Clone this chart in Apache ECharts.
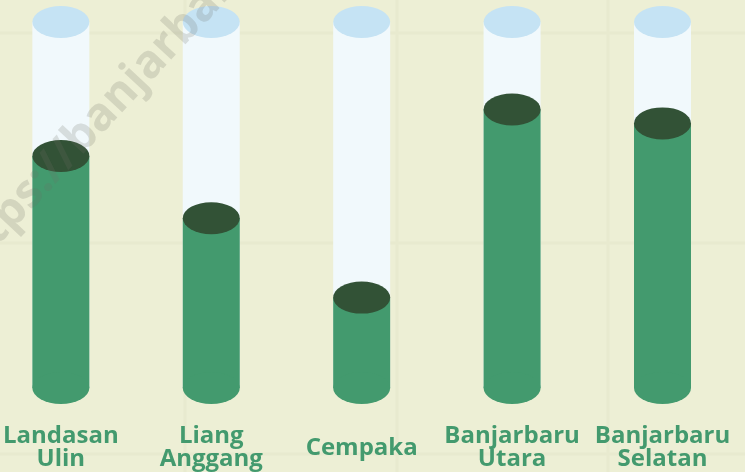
<!DOCTYPE html>
<html>
<head>
<meta charset="utf-8">
<script src="https://cdn.jsdelivr.net/npm/echarts@6/dist/echarts.min.js"></script>
<style>
  html, body { margin: 0; padding: 0; background: #edefd5; }
  #chart { width: 745px; height: 472px; }
</style>
</head>
<body>
<div id="chart"></div>
<script>
const kecamatan = ['Landasan\nUlin', 'Liang\nAnggang', 'Cempaka', 'Banjarbaru\nUtara', 'Banjarbaru\nSelatan']
const nilai = [63.4, 46.4, 24.7, 76.1, 72.3]
const maksimum = [100, 100, 100, 100, 100]

const W = 57, H = 32

const chart = echarts.init(document.getElementById('chart'))

// faint background grid pattern
const gridLines = []
;[33, 243, 454].forEach(y => {
    gridLines.push({ type: 'line', z: 0, silent: true,
        shape: { x1: 0, y1: y, x2: 745, y2: y },
        style: { stroke: '#e8eacf', lineWidth: 3 } })
})
;[185, 397, 608].forEach(x => {
    gridLines.push({ type: 'line', z: 0, silent: true,
        shape: { x1: x, y1: 0, x2: x, y2: 472 },
        style: { stroke: '#e8eacf', lineWidth: 3 } })
})

const option = {
    backgroundColor: '#edefd5',
    animation: false,
    grid: { left: 59.5, right: 82.5, top: 22, bottom: 84, containLabel: false },
    xAxis: {
        type: 'category',
        data: kecamatan,
        boundaryGap: false,
        axisLine: { show: false },
        axisTick: { show: false },
        splitLine: { show: false },
        axisLabel: {
            interval: 0,
            margin: 60,
            verticalAlign: 'middle',
            color: '#439a6e',
            fontFamily: 'Open Sans',
            fontWeight: 'bold',
            fontSize: 24,
            lineHeight: 23
        }
    },
    yAxis: {
        type: 'value',
        min: 0,
        max: 100,
        show: false,
        splitLine: { show: false }
    },
    graphic: gridLines.concat([{
        type: 'text',
        z: 100,
        silent: true,
        x: -30,
        y: 290,
        rotation: 47 * Math.PI / 180,
        style: {
            text: 'https://banjarbarukota.go.id',
            font: 'bold 46px "Open Sans"',
            fill: 'rgba(110,110,100,0.2)',
            textAlign: 'left',
            textVerticalAlign: 'bottom'
        }
    }]),
    series: [
        {
            // empty tube
            type: 'bar',
            data: maksimum,
            barWidth: W,
            barGap: '-100%',
            itemStyle: { color: '#f1f9fc' },
            z: 2
        },
        {
            type: 'bar',
            data: nilai,
            barWidth: W,
            barGap: '-100%',
            itemStyle: { color: '#439a6e' },
            z: 4
        },
        {
            // tube top
            type: 'pictorialBar',
            data: maksimum,
            symbol: 'circle',
            symbolSize: [W, H],
            symbolPosition: 'end',
            symbolOffset: [0, '-50%'],
            barWidth: W,
            barGap: '-100%',
            itemStyle: { color: '#c5e3f4' },
            z: 3
        },
        {
            // liquid top
            type: 'pictorialBar',
            data: nilai,
            symbol: 'circle',
            symbolSize: [W, H],
            symbolPosition: 'end',
            symbolOffset: [0, '-50%'],
            barWidth: W,
            barGap: '-100%',
            itemStyle: { color: '#325236' },
            z: 5
        },
        {
            // bottom
            type: 'pictorialBar',
            data: nilai,
            symbol: 'circle',
            symbolSize: [W, H],
            symbolPosition: 'start',
            symbolOffset: [0, '50%'],
            barWidth: W,
            barGap: '-100%',
            itemStyle: { color: '#439a6e' },
            z: 5
        }
    ]
}

chart.setOption(option)
</script>
</body>
</html>
